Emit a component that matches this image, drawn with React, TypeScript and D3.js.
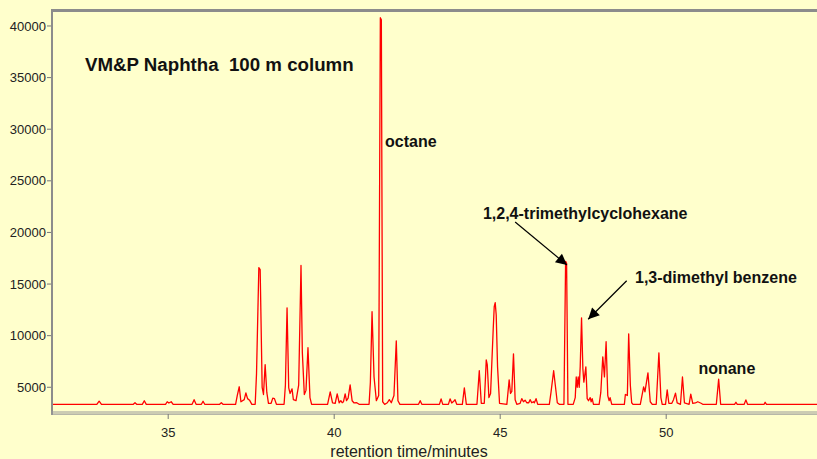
import React from "react";
import * as d3 from "d3";

const W = 817;
const H = 459;

// retention time (min), detector signal
const trace: [number, number][] = [
  [31.5, 3350], [32.85, 3350], [32.92, 3650], [32.99, 3350],
  [33.95, 3350], [34.0, 3500], [34.05, 3350],
  [34.22, 3350], [34.28, 3700], [34.34, 3350],
  [34.92, 3350], [34.97, 3600], [35.02, 3480], [35.09, 3600], [35.15, 3350],
  [35.72, 3350], [35.78, 3800], [35.84, 3350],
  [36.0, 3350], [36.05, 3650], [36.1, 3350],
  [36.55, 3350], [36.6, 3500], [36.65, 3350],
  [37.03, 3350], [37.08, 4200], [37.14, 5050], [37.19, 3600], [37.29, 3800], [37.34, 4450], [37.39, 3900], [37.45, 3750], [37.52, 3350],
  [37.62, 3350], [37.66, 6300], [37.73, 16600], [37.77, 16400], [37.83, 5000], [37.87, 4300], [37.92, 7200], [37.97, 4500], [38.02, 3450],
  [38.1, 3450], [38.15, 3950], [38.2, 3900], [38.26, 3350],
  [38.49, 3350], [38.53, 5200], [38.58, 12700], [38.63, 4950], [38.67, 4400], [38.73, 4850], [38.77, 3800], [38.85, 3700],
  [38.93, 5200], [39.0, 16800], [39.04, 8400], [39.1, 4300], [39.15, 4700], [39.21, 8830], [39.27, 4000], [39.32, 3350],
  [39.8, 3350], [39.88, 4560], [39.95, 3480], [40.03, 3450], [40.09, 4360], [40.15, 3500], [40.2, 3700], [40.24, 3500],
  [40.28, 3600], [40.33, 4360], [40.37, 3700], [40.42, 3950], [40.48, 5240], [40.54, 3700], [40.6, 3480], [40.68, 3500], [40.75, 3350],
  [41.05, 3350], [41.09, 5500], [41.14, 12320], [41.2, 6000], [41.27, 3700], [41.34, 4200], [41.39, 40800], [41.42, 40600], [41.46, 3600],
  [41.52, 3350], [41.6, 3500], [41.66, 3800], [41.72, 3500], [41.8, 4200], [41.87, 9500], [41.92, 3700], [41.98, 3350],
  [42.54, 3350], [42.59, 3700], [42.64, 3350],
  [43.17, 3350], [43.22, 3880], [43.27, 3350],
  [43.44, 3350], [43.49, 3880], [43.54, 3480], [43.6, 3650], [43.64, 3800], [43.69, 3350],
  [43.86, 3350], [43.92, 4950], [43.98, 3350],
  [44.3, 3350], [44.37, 6600], [44.43, 3450], [44.52, 3450], [44.55, 5500], [44.58, 7660], [44.61, 7200], [44.66, 4000], [44.71, 4400],
  [44.79, 10670], [44.82, 12800], [44.85, 13190], [44.88, 12000], [44.92, 7000], [44.98, 3450],
  [45.2, 3350], [45.27, 5720], [45.31, 4400], [45.35, 4600], [45.4, 8240], [45.45, 3800], [45.5, 3350],
  [45.6, 3450], [45.65, 3900], [45.7, 3600], [45.75, 3750], [45.8, 3500], [45.86, 3500], [45.9, 3800], [45.95, 3500],
  [46.0, 3600], [46.03, 3500], [46.08, 3900], [46.13, 3350],
  [46.48, 3350], [46.53, 4500], [46.61, 6600], [46.66, 5200], [46.72, 3500], [46.78, 3350],
  [46.92, 3350], [46.97, 17200], [47.0, 17000], [47.04, 3350],
  [47.2, 3350], [47.26, 4000], [47.29, 6000], [47.32, 5000], [47.35, 6000], [47.38, 5000], [47.41, 7000], [47.45, 11730],
  [47.49, 6800], [47.52, 5500], [47.58, 6980], [47.62, 3900], [47.66, 3700], [47.71, 4000], [47.74, 3600], [47.77, 3900], [47.81, 3350],
  [47.98, 3350], [48.03, 4500], [48.09, 7950], [48.14, 6000], [48.19, 9410], [48.24, 4200], [48.28, 3700], [48.31, 4000], [48.36, 3350],
  [48.74, 3350], [48.77, 4300], [48.83, 4200], [48.87, 10180], [48.92, 5200], [48.96, 3500], [49.0, 3350],
  [49.22, 3350], [49.32, 5040], [49.36, 4560], [49.45, 6400], [49.52, 3600], [49.58, 3350],
  [49.7, 3350], [49.78, 8340], [49.84, 4000], [49.88, 3350],
  [49.98, 3350], [50.03, 4750], [50.08, 3450],
  [50.17, 3450], [50.22, 3800], [50.28, 4430], [50.33, 3480],
  [50.43, 3350], [50.49, 6000], [50.55, 3480],
  [50.69, 3350], [50.74, 4330], [50.8, 3450],
  [50.88, 3480], [50.95, 3600], [51.05, 3450], [51.1, 3350],
  [51.51, 3350], [51.58, 5790], [51.64, 3350],
  [52.06, 3350], [52.1, 3550], [52.14, 3350],
  [52.35, 3350], [52.4, 3780], [52.45, 3350],
  [52.95, 3350], [52.98, 3550], [53.02, 3350],
  [55.0, 3350],
];

const xTicks = [35, 40, 45, 50];
const yTicks = [5000, 10000, 15000, 20000, 25000, 30000, 35000, 40000];

const title = "VM&P Naphtha  100 m column";
const xTitle = "retention time/minutes";

const labels = [
  { text: "octane", t: 41.53, v: 28280 },
  { text: "1,2,4-trimethylcyclohexane", t: 44.48, v: 21300 },
  { text: "1,3-dimethyl benzene", t: 49.06, v: 15100 },
  { text: "nonane", t: 50.97, v: 6290 },
];

const arrows = [
  { t0: 45.45, v0: 21010, t1: 47.01, v1: 16850 },
  { t0: 48.81, v0: 15320, t1: 47.65, v1: 11590 },
];

const BG = "#ffffcc";

export default function App() {
  const x = d3.scaleLinear().domain([31.5, 55]).range([52, 52 + 23.5 * 33.2]);
  const y = d3.scaleLinear().domain([2557, 41548]).range([412.5, 10]);
  const line = d3
    .line<[number, number]>()
    .x((d) => x(d[0]))
    .y((d) => y(d[1]));

  const font = "'Liberation Sans', Arial, sans-serif";

  return (
    <div style={{ position: "fixed", left: 0, top: 0, width: W, height: H, background: BG }}>
      <svg width={W} height={H} style={{ display: "block" }}>
        <defs>
          <marker id="ah" viewBox="0 0 10 10" refX="10" refY="5" markerWidth="14" markerHeight="11" markerUnits="userSpaceOnUse" orient="auto">
            <path d="M0,0 L10,5 L0,10 z" fill="#000" />
          </marker>
          <clipPath id="plot">
            <rect x={53} y={11} width={W} height={401} />
          </clipPath>
        </defs>
        <rect x={0} y={0} width={W} height={H} fill={BG} />
        {/* frame */}
        <rect x={51} y={9} width={W} height={3} fill="#8c8c8c" />
        <rect x={51} y={9} width={2} height={406} fill="#8c8c8c" />
        <rect x={51} y={411.5} width={W} height={1} fill="#999" />
        <rect x={51} y={413.5} width={W} height={1.2} fill="#999" />

        {/* trace */}
        <path d={line(trace) ?? ""} fill="none" stroke="#ff0000" strokeWidth={1.3} strokeLinejoin="round" clipPath="url(#plot)" />

        {/* y axis */}
        {yTicks.map((v) => (
          <g key={v}>
            <line x1={47} x2={51} y1={y(v)} y2={y(v)} stroke="#777" strokeWidth={1} />
            <text x={46} y={y(v)} dy="0.35em" textAnchor="end" fontFamily={font} fontSize={13} fill="#222">
              {v}
            </text>
          </g>
        ))}
        {/* x axis */}
        {xTicks.map((t) => (
          <g key={t}>
            <line x1={x(t)} x2={x(t)} y1={414} y2={419} stroke="#777" strokeWidth={1} />
            <text x={x(t)} y={437} textAnchor="middle" fontFamily={font} fontSize={13} fill="#222">
              {t}
            </text>
          </g>
        ))}
        <text x={409} y={457} textAnchor="middle" fontFamily={font} fontSize={16} fill="#222">
          {xTitle}
        </text>

        <text x={85} y={71} fontFamily={font} fontSize={18.7} fontWeight="bold" fill="#111" style={{ whiteSpace: "pre" }}>
          {title}
        </text>
        {labels.map((l) => (
          <text key={l.text} x={x(l.t)} y={y(l.v)} fontFamily={font} fontSize={16} fontWeight="bold" fill="#111">
            {l.text}
          </text>
        ))}
        {arrows.map((a, i) => (
          <line key={i} x1={x(a.t0)} y1={y(a.v0)} x2={x(a.t1)} y2={y(a.v1)} stroke="#000" strokeWidth={1.2} markerEnd="url(#ah)" />
        ))}
      </svg>
    </div>
  );
}
